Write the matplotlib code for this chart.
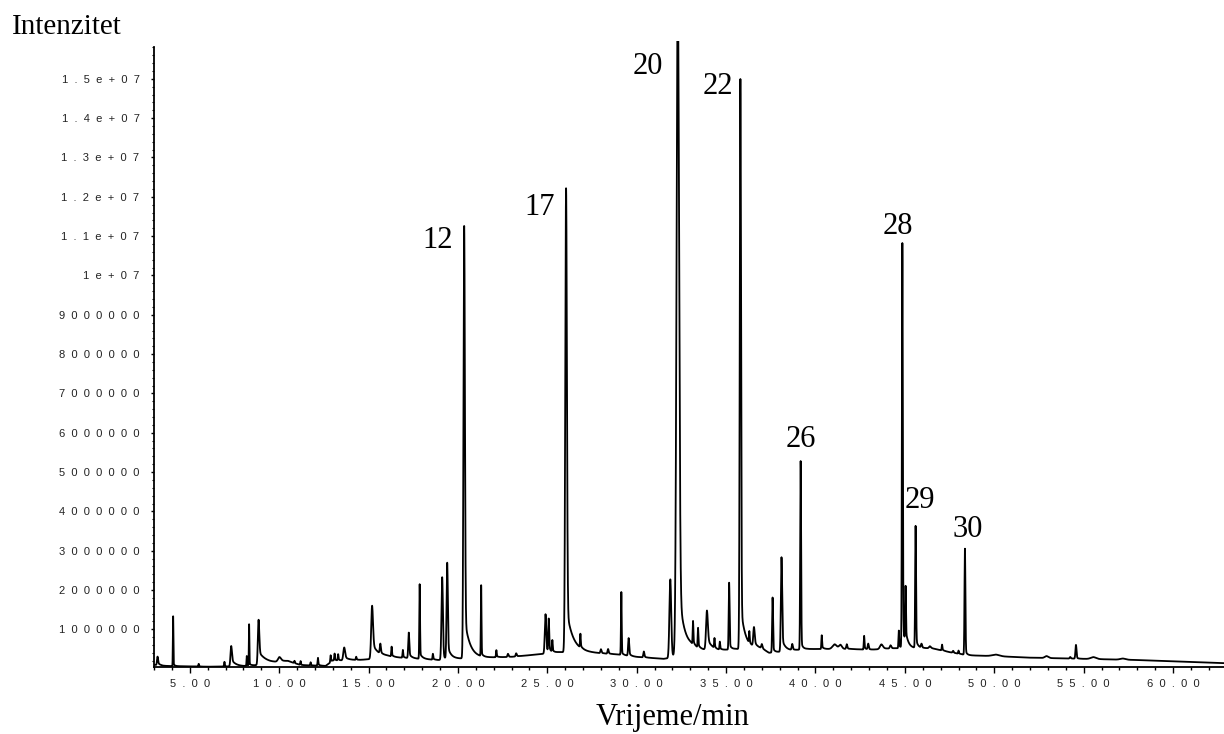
import numpy as np
import matplotlib
matplotlib.use("Agg")
import matplotlib.pyplot as plt
from matplotlib.ticker import FixedLocator, MultipleLocator

# peak table (time in min, height above baseline in 1e6 counts)
peak_rt = [3.20, 4.07, 5.50, 6.94, 7.32, 8.19, 8.32, 8.85, 10.02, 10.86, 11.20, 11.76,
           12.17, 12.88, 13.10, 13.30, 13.64, 14.31, 15.20, 15.66, 16.29, 16.92, 17.25,
           17.86, 18.60, 19.12, 19.40, 20.35, 21.30, 22.15, 22.80, 23.26, 24.90, 25.08,
           25.28, 26.05, 26.85, 28.00, 28.40, 29.14, 29.55, 30.40, 31.88, 32.30, 33.15,
           33.43, 33.93, 34.35, 34.65, 35.17, 35.80, 36.30, 36.56, 37.00, 37.60, 38.10,
           38.70, 39.17, 40.35, 41.08, 41.40, 41.75, 42.72, 42.95, 43.69, 44.20, 44.66,
           44.86, 45.04, 45.60, 45.93, 46.40, 47.08, 47.70, 48.00, 48.36, 50.10, 52.93,
           54.25, 54.57, 55.55, 57.20]
peak_h = [0.22, 1.27, 0.07, 0.12, 0.52, 0.25, 1.05, 1.15, 0.12, 0.06, 0.10, 0.08,
          0.20, 0.18, 0.18, 0.16, 0.33, 0.08, 1.35, 0.25, 0.25, 0.20, 0.65,
          1.90, 0.15, 2.10, 2.45, 11.0, 1.80, 0.18, 0.08, 0.08, 1.00, 0.85,
          0.30, 11.8, 0.35, 0.10, 0.12, 1.60, 0.45, 0.15, 2.00, 17.0, 0.60,
          0.50, 1.00, 0.25, 0.20, 1.70, 14.5, 0.30, 0.50, 0.10, 1.40, 2.40,
          0.15, 4.80, 0.35, 0.12, 0.10, 0.12, 0.35, 0.15, 0.12, 0.08, 0.45,
          10.3, 1.40, 3.10, 0.10, 0.05, 0.15, 0.05, 0.08, 2.70, 0.04, 0.05,
          0.04, 0.35, 0.05, 0.03]
peak_w = [0.03, 0.015, 0.02, 0.02, 0.04, 0.015, 0.015, 0.04, 0.08, 0.02, 0.02, 0.02,
          0.02, 0.02, 0.02, 0.02, 0.05, 0.02, 0.05, 0.03, 0.02, 0.02, 0.03,
          0.02, 0.02, 0.04, 0.035, 0.04, 0.018, 0.02, 0.03, 0.03, 0.04, 0.025,
          0.02, 0.045, 0.02, 0.03, 0.03, 0.02, 0.03, 0.03, 0.05, 0.07, 0.02,
          0.02, 0.05, 0.02, 0.02, 0.025, 0.035, 0.02, 0.04, 0.03, 0.025, 0.035,
          0.03, 0.025, 0.02, 0.12, 0.08, 0.03, 0.02, 0.03, 0.08, 0.04, 0.02,
          0.025, 0.02, 0.025, 0.03, 0.05, 0.02, 0.03, 0.02, 0.025, 0.2, 0.1,
          0.03, 0.03, 0.15, 0.15]
peak_tau = [0.15, 0.08, 0.1, 0.1, 0.25, 0.1, 0.1, 0.45, 0.3, 0.1, 0.1, 0.1,
            0.1, 0.1, 0.1, 0.1, 0.25, 0.1, 0.35, 0.15, 0.1, 0.1, 0.15,
            0.15, 0.1, 0.1, 0.2, 0.3, 0.1, 0.1, 0.1, 0.1, 0.1, 0.1,
            0.1, 0.35, 0.1, 0.1, 0.1, 0.1, 0.1, 0.1, 0.1, 0.3, 0.1,
            0.1, 0.3, 0.1, 0.1, 0.1, 0.25, 0.1, 0.2, 0.1, 0.1, 0.2,
            0.1, 0.1, 0.1, 0.2, 0.1, 0.1, 0.1, 0.1, 0.2, 0.1, 0.1,
            0.15, 0.15, 0.12, 0.1, 0.1, 0.1, 0.1, 0.1, 0.1, 0.2, 0.1,
            0.1, 0.1, 0.2, 0.2]
peak_frac = [0.3, 0.05, 0.1, 0.1, 0.35, 0.1, 0.05, 0.3, 0.4, 0.1, 0.1, 0.1,
             0.2, 0.2, 0.2, 0.2, 0.3, 0.2, 0.3, 0.2, 0.2, 0.2, 0.2,
             0.08, 0.2, 0.1, 0.15, 0.1, 0.05, 0.2, 0.2, 0.2, 0.2, 0.2,
             0.2, 0.1, 0.2, 0.2, 0.2, 0.05, 0.2, 0.2, 0.1, 0.12, 0.2,
             0.2, 0.3, 0.2, 0.2, 0.1, 0.08, 0.2, 0.3, 0.2, 0.1, 0.15,
             0.2, 0.05, 0.2, 0.3, 0.2, 0.2, 0.2, 0.2, 0.3, 0.2, 0.2,
             0.06, 0.2, 0.08, 0.2, 0.2, 0.2, 0.2, 0.2, 0.05, 0.2, 0.2,
             0.2, 0.1, 0.2, 0.2]

# baseline level read between peaks (1e6 counts)
base_t = [3.0, 3.5, 6.0, 8.0, 9.5, 10.5, 11.2, 12.6, 13.0, 14.5, 15.0, 16.0, 18.9,
          19.9, 21.5, 23.0, 24.4, 25.6, 27.0, 29.0, 30.0, 31.5, 32.0, 33.0, 34.5,
          35.5, 37.0, 37.4, 39.5, 42.0, 43.0, 44.5, 46.5, 47.5, 48.5, 50.0, 52.0,
          55.0, 58.0, 61.0, 62.9]
base_v = [0.10, 0.07, 0.05, 0.06, 0.12, 0.18, 0.09, 0.07, 0.20, 0.22, 0.24, 0.30, 0.22,
          0.25, 0.28, 0.30, 0.36, 0.42, 0.42, 0.36, 0.30, 0.25, 0.28, 0.50, 0.45,
          0.50, 0.50, 0.40, 0.50, 0.50, 0.48, 0.52, 0.52, 0.42, 0.34, 0.32, 0.28,
          0.25, 0.22, 0.17, 0.14]

# numbered peaks
label_text = ["12", "17", "20", "22", "26", "28", "29", "30"]
label_rt = [20.35, 26.05, 32.30, 35.80, 39.17, 44.86, 45.60, 48.36]
label_off = [(-27, -15), (-26, -19), (-30, -26), (-23, -7), (0, 22), (-4, 17), (4, 25), (3, 19)]

x_ticks = [5, 10, 15, 20, 25, 30, 35, 40, 45, 50, 55, 60]
y_ticks = [1e6, 2e6, 3e6, 4e6, 5e6, 6e6, 7e6, 8e6, 9e6, 1e7, 1.1e7, 1.2e7, 1.3e7, 1.4e7, 1.5e7]
y_labels = ["1000000", "2000000", "3000000", "4000000", "5000000", "6000000", "7000000",
            "8000000", "9000000", "1e+07", "1.1e+07", "1.2e+07", "1.3e+07", "1.4e+07",
            "1.5e+07"]


def spaced(s):
    return "  ".join(s)


t = np.arange(3.0, 62.9, 0.003)
signal = np.interp(t, base_t, base_v)
for rt, h, w, tau, f in zip(peak_rt, peak_h, peak_w, peak_tau, peak_frac):
    g = np.exp(-0.5 * ((t - rt) / w) ** 2)
    d = np.clip(t - rt, 0, None)
    tail = np.where(t >= rt, (1 - f) * g + f * np.exp(-d / tau), g)
    signal += h * tail
signal *= 1e6

fig = plt.figure(figsize=(12.24, 7.34), dpi=100)
ax = fig.add_axes([154 / 1224, 1 - 667.3 / 734, 1 - 154 / 1224, (667.3 - 40.7) / 734])
ax.plot(t, signal, color="black", linewidth=1.3)

ytop = 15.97e6
ax.set_xlim(3.0, 62.85)
ax.set_ylim(0.035e6, ytop)

for s in ["top", "right"]:
    ax.spines[s].set_visible(False)
for s in ["left", "bottom"]:
    ax.spines[s].set_linewidth(1.3)
ax.spines["left"].set_bounds(0.035e6, 15.82e6)

sans = "Liberation Sans"
serif = "Liberation Serif"

ax.xaxis.set_major_locator(FixedLocator(x_ticks))
ax.set_xticklabels([spaced(f"{v:.2f}") for v in x_ticks], fontfamily=sans, fontsize=8, color="#222222")
ax.xaxis.set_minor_locator(MultipleLocator(1))
ax.yaxis.set_major_locator(FixedLocator(y_ticks))
ax.set_yticklabels([spaced(s) for s in y_labels], fontfamily=sans, fontsize=8, color="#222222")
ax.yaxis.set_minor_locator(MultipleLocator(2e5))

ax.tick_params(axis="x", which="major", direction="out", length=4.5, width=1, pad=4)
ax.tick_params(axis="x", which="minor", direction="out", length=2.5, width=1)
ax.tick_params(axis="y", which="major", direction="out", length=2.5, width=1, pad=8)
ax.tick_params(axis="y", which="minor", direction="out", length=1.5, width=0.8)

for lab, rt, (dx, dy) in zip(label_text, label_rt, label_off):
    i = np.argmin(np.abs(t - rt))
    top = min(signal[max(i - 20, 0):i + 20].max(), ytop)
    ax.annotate(lab, xy=(rt, top), xytext=(dx * 0.72, dy * 0.72), textcoords="offset points",
                ha="center", va="center", fontfamily=serif, fontsize=22, annotation_clip=False)

fig.text(12 / 1224, 1 - 27 / 734, "Intenzitet", fontfamily=serif, fontsize=21, ha="left", va="center")
fig.text(673 / 1224, 1 - 717 / 734, "Vrijeme/min", fontfamily=serif, fontsize=22, ha="center", va="center")

fig.savefig("out.png", dpi=100)
